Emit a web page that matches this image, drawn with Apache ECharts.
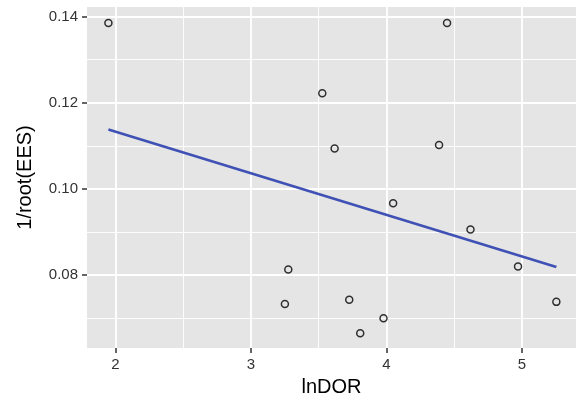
<!DOCTYPE html>
<html lang="en">
<head>
  <meta charset="UTF-8">
  <title>lnDOR vs 1/root(EES)</title>
  <script src="https://cdn.jsdelivr.net/npm/echarts@6/dist/echarts.min.js"></script>
  <style>
    html, body { margin: 0; padding: 0; background: #fff; }
    #main { width: 576px; height: 402px; }
  </style>
</head>
<body>
  <div id="main"></div>
  <script>
    // points
    var lnDOR = [1.948, 3.251, 3.276, 3.527, 3.618, 3.726, 3.807, 3.979, 4.050, 4.389, 4.448, 4.621, 4.972, 5.255];
    var invRootEES = [0.1385, 0.0733, 0.0813, 0.1222, 0.1094, 0.0743, 0.0665, 0.0700, 0.0967, 0.1102, 0.1385, 0.0906, 0.0820, 0.0738];

    // fitted line ends
    var fitX = [1.948, 5.255];
    var fitY = [0.1138, 0.0819];

    var xTicks = [2, 3, 4, 5];
    var yTicks = [0.08, 0.10, 0.12, 0.14];
    var xMinor = [2.5, 3.5, 4.5];
    var yMinor = [0.07, 0.09, 0.11, 0.13];

    var font = '"Liberation Sans", Arial, sans-serif';

    var myChart = echarts.init(document.getElementById('main'));

    var points = lnDOR.map(function (x, i) { return [x, invRootEES[i]]; });
    var fit = fitX.map(function (x, i) { return [x, fitY[i]]; });

    // ggplot style grid, drawn as mark lines so majors and minors differ
    function gridLines(vals, key, width) {
      return vals.map(function (v) {
        var d = { lineStyle: { color: '#fff', width: width, type: 'solid' } };
        d[key] = v;
        return d;
      });
    }

    var option = {
      animation: false,
      grid: {
        left: 87, right: 0, top: 7, bottom: 49,
        show: true,
        backgroundColor: '#E5E5E5',
        borderWidth: 0
      },
      xAxis: {
        type: 'value',
        min: 1.79,
        max: 5.40,
        name: 'lnDOR',
        nameLocation: 'middle',
        nameGap: 29,
        nameTextStyle: { fontFamily: font, fontSize: 20, color: '#000' },
        axisLine: { show: false },
        axisTick: { show: true, customValues: xTicks, length: 5, lineStyle: { color: '#333333', width: 1.5 } },
        axisLabel: {
          customValues: xTicks, margin: 9,
          fontFamily: font, fontSize: 15, color: '#333'
        },
        splitLine: { show: false }
      },
      yAxis: {
        type: 'value',
        min: 0.0631,
        max: 0.1422,
        name: '1/root(EES)',
        nameLocation: 'middle',
        nameGap: 52,
        nameTextStyle: { fontFamily: font, fontSize: 20, color: '#000' },
        axisLine: { show: false },
        axisTick: { show: true, customValues: yTicks, length: 5, lineStyle: { color: '#333333', width: 1.5 } },
        axisLabel: {
          customValues: yTicks, margin: 9,
          fontFamily: font, fontSize: 15, color: '#333',
          formatter: function (v) { return v.toFixed(2); }
        },
        splitLine: { show: false }
      },
      series: [
        {
          type: 'scatter',
          data: points,
          symbol: 'circle',
          symbolSize: 7,
          itemStyle: { color: 'rgba(0,0,0,0)', borderColor: '#000', borderWidth: 1.5 },
          z: 2,
          markLine: {
            silent: true,
            symbol: 'none',
            label: { show: false },
            animation: false,
            z: 1,
            data: [].concat(
              gridLines(xMinor, 'xAxis', 0.9),
              gridLines(yMinor, 'yAxis', 0.9),
              gridLines(xTicks, 'xAxis', 1.8),
              gridLines(yTicks, 'yAxis', 1.8)
            )
          }
        },
        {
          type: 'line',
          data: fit,
          showSymbol: false,
          lineStyle: { color: '#3F51B5', width: 2.6 },
          z: 3
        }
      ]
    };

    myChart.setOption(option);
  </script>
</body>
</html>
